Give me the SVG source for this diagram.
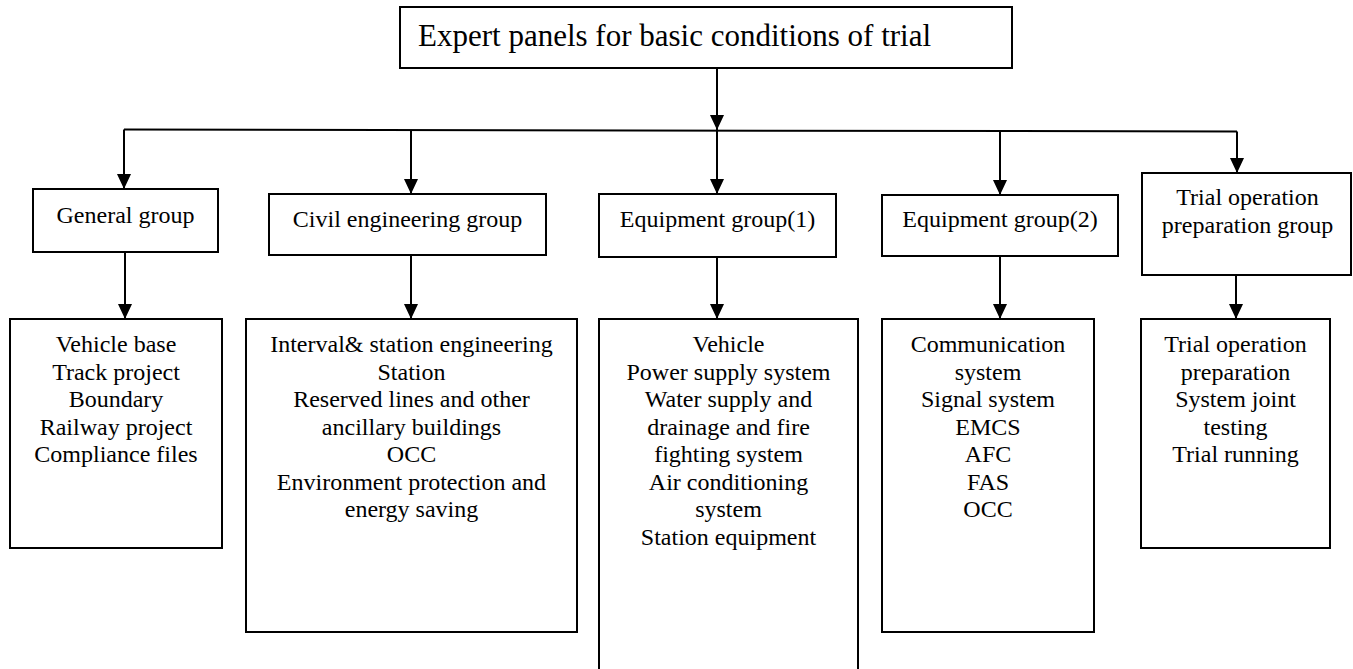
<svg xmlns="http://www.w3.org/2000/svg" width="1353" height="669" viewBox="0 0 1353 669">
<defs>
<style>
.box{fill:#fff;stroke:#000;stroke-width:2}
.t{font-family:"Liberation Serif","Times New Roman",serif;font-size:24px;fill:#000;text-anchor:middle}
.title{font-family:"Liberation Serif","Times New Roman",serif;font-size:31px;fill:#000}
.c{fill:none;stroke:#000;stroke-width:2}
</style>
<marker id="ah" markerUnits="userSpaceOnUse" markerWidth="16" markerHeight="16" viewBox="0 0 16 16" refX="15" refY="8" orient="auto">
<path d="M0,1 L15,8 L0,15 Z" fill="#000"/>
</marker>
</defs>
<rect width="1353" height="669" fill="#fff"/>
<g id="connectors">
<path class="c" d="M124,129.5 L1237,131.5"/>
<path class="c" d="M717,68 V130" marker-end="url(#ah)"/>
<path class="c" d="M124,129.5 V189" marker-end="url(#ah)"/>
<path class="c" d="M411,130 V194" marker-end="url(#ah)"/>
<path class="c" d="M717,130.5 V194" marker-end="url(#ah)"/>
<path class="c" d="M1000,131 V195" marker-end="url(#ah)"/>
<path class="c" d="M1237,131.5 V173" marker-end="url(#ah)"/>
<path class="c" d="M125,252 V319" marker-end="url(#ah)"/>
<path class="c" d="M411,255 V319" marker-end="url(#ah)"/>
<path class="c" d="M717,257 V319" marker-end="url(#ah)"/>
<path class="c" d="M1000,256 V319" marker-end="url(#ah)"/>
<path class="c" d="M1236,275 V319" marker-end="url(#ah)"/>
</g>
<g id="top">
<rect class="box" x="400" y="7" width="612" height="61"/>
<text class="title" x="418" y="46">Expert panels for basic conditions of trial</text>
</g>
<g id="general-group">
<rect class="box" x="33" y="189" width="185" height="63"/>
<text class="t" x="125.5" y="223">General group</text>
</g>
<g id="civil-group">
<rect class="box" x="269" y="194" width="277" height="61"/>
<text class="t" x="407.5" y="227">Civil engineering group</text>
</g>
<g id="equip1-group">
<rect class="box" x="599" y="194" width="237" height="63"/>
<text class="t" x="717.5" y="227">Equipment group(1)</text>
</g>
<g id="equip2-group">
<rect class="box" x="882" y="195" width="236" height="61"/>
<text class="t" x="1000" y="227">Equipment group(2)</text>
</g>
<g id="trial-group">
<rect class="box" x="1142" y="173" width="209" height="102"/>
<text class="t" x="1247.5" y="205">Trial operation</text>
<text class="t" x="1247.5" y="233">preparation group</text>
</g>
<g id="general-items">
<rect class="box" x="10" y="319" width="212" height="229"/>
<text class="t" x="116" y="352">Vehicle base</text>
<text class="t" x="116" y="379.5">Track project</text>
<text class="t" x="116" y="407">Boundary</text>
<text class="t" x="116" y="434.5">Railway project</text>
<text class="t" x="116" y="462">Compliance files</text>
</g>
<g id="civil-items">
<rect class="box" x="246" y="319" width="331" height="313"/>
<text class="t" x="411.5" y="352">Interval&amp; station engineering</text>
<text class="t" x="411.5" y="379.5">Station</text>
<text class="t" x="411.5" y="407">Reserved lines and other</text>
<text class="t" x="411.5" y="434.5">ancillary buildings</text>
<text class="t" x="411.5" y="462">OCC</text>
<text class="t" x="411.5" y="489.5">Environment protection and</text>
<text class="t" x="411.5" y="517">energy saving</text>
</g>
<g id="equip1-items">
<rect class="box" x="599" y="319" width="259" height="370"/>
<text class="t" x="728.5" y="352">Vehicle</text>
<text class="t" x="728.5" y="379.5">Power supply system</text>
<text class="t" x="728.5" y="407">Water supply and</text>
<text class="t" x="728.5" y="434.5">drainage and fire</text>
<text class="t" x="728.5" y="462">fighting system</text>
<text class="t" x="728.5" y="489.5">Air conditioning</text>
<text class="t" x="728.5" y="517">system</text>
<text class="t" x="728.5" y="544.5">Station equipment</text>
</g>
<g id="equip2-items">
<rect class="box" x="882" y="319" width="212" height="313"/>
<text class="t" x="988" y="352">Communication</text>
<text class="t" x="988" y="379.5">system</text>
<text class="t" x="988" y="407">Signal system</text>
<text class="t" x="988" y="434.5">EMCS</text>
<text class="t" x="988" y="462">AFC</text>
<text class="t" x="988" y="489.5">FAS</text>
<text class="t" x="988" y="517">OCC</text>
</g>
<g id="trial-items">
<rect class="box" x="1141" y="319" width="189" height="229"/>
<text class="t" x="1235.5" y="352">Trial operation</text>
<text class="t" x="1235.5" y="379.5">preparation</text>
<text class="t" x="1235.5" y="407">System joint</text>
<text class="t" x="1235.5" y="434.5">testing</text>
<text class="t" x="1235.5" y="462">Trial running</text>
</g>
</svg>
